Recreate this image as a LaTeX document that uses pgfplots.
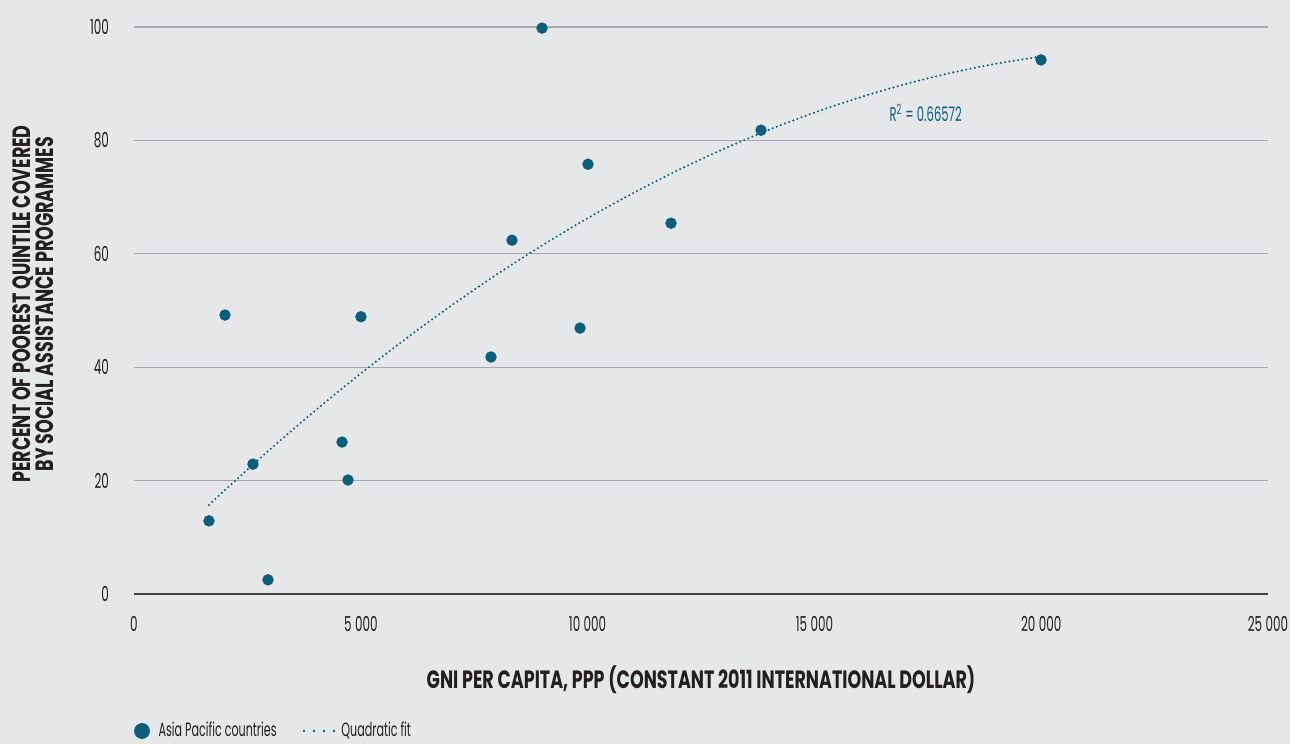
\documentclass[border=0pt]{standalone}
\usepackage{fontspec}
\setmainfont{Poppins}[FakeStretch=0.7]
\newfontfamily\tickfont{Poppins}[FakeStretch=0.58]
\usepackage{pgfplots}
\pgfplotsset{compat=1.18}
\definecolor{bg}{HTML}{E6E7E8}
\definecolor{teal}{RGB}{12,94,122}
\definecolor{txt}{HTML}{231F20}
\definecolor{gridc}{HTML}{A7A9AC}
\begin{document}
\begin{tikzpicture}[x=1pt,y=1pt]
\path[use as bounding box, fill=bg] (-67pt,-75pt) rectangle (578pt,297pt);
\begin{axis}[
  scale only axis, width=567pt, height=283.5pt,
  xmin=0, xmax=25000, ymin=0, ymax=100,
  axis line style={draw=none},
  major tick length=0pt,
  xtick={0,5000,10000,15000,20000,25000},
  ytick={0,20,40,60,80,100},
  ymajorgrids, grid style={gridc, line width=0.6pt},
  /pgf/number format/.cd, assume math mode=true, 1000 sep={\,},
  /pgfplots/.cd,
  scaled x ticks=false,
  tick label style={font=\tickfont\fontsize{10.3}{11}\selectfont, text=txt},
  xticklabel style={yshift=-7.5pt},
  yticklabel style={xshift=-9pt},
  xlabel={GNI PER CAPITA, PPP (CONSTANT 2011 INTERNATIONAL DOLLAR)},
  ylabel={PERCENT OF POOREST QUINTILE COVERED\\BY SOCIAL ASSISTANCE PROGRAMMES},
  label style={font=\bfseries\fontsize{12.5}{10}\selectfont, text=txt},
  xlabel style={at={(axis description cs:0.5,-0.1517)}, anchor=center},
  ylabel style={at={(axis description cs:-0.0891,0.5115)}, anchor=center, align=center},
  legend style={at={(axis description cs:-0.002,-0.2416)}, anchor=west, draw=none, fill=none,
    inner sep=1pt,
    font=\tickfont\fontsize{9.6}{10}\selectfont, text=txt, /tikz/every even column/.append style={column sep=11pt}},
  legend columns=2,
  clip=false,
]
\draw[color=txt!85, line width=1.1pt] (axis cs:0,0) -- (axis cs:25000,0);
\addplot[only marks, mark=*, mark size=2.65pt, color=teal,
  legend image code/.code={\fill[teal] (0.06cm,0cm) circle (3.75pt); \path[draw=none,fill=none] (0pt,0pt) rectangle (8pt,0.1pt);}]
  coordinates {
(1653,12.9) (2006,49.2) (2623,22.9) (2954,2.5) (4586,26.8) (4718,20.1)
(5004,48.9) (7870,41.8) (8333,62.4) (8995,99.8) (9833,46.9) (10009,75.8)
(11839,65.4) (13823,81.8) (19996,94.2)
};
\addlegendentry{Asia Pacific countries}
\addplot[color=teal, line width=1.15pt, line cap=round, dash pattern=on 0pt off 2.2pt, smooth,
  legend image code/.code={\draw[teal, line width=1.4pt, line cap=round, dash pattern=on 0pt off 5pt] (0pt,0pt) -- (16pt,0pt);}]
  coordinates {
(1653,15.70) (2000,18.29) (3000,25.51) (4000,32.38) (5000,38.90) (6000,45.07)
(7000,50.89) (8000,56.37) (9000,61.49) (10000,66.27) (11000,70.69) (12000,74.77)
(13000,78.49) (14000,81.87) (15000,84.90) (16000,87.58) (17000,89.91) (18000,91.89)
(19000,93.52) (20000,94.80)
};
\addlegendentry{Quadratic fit}
\node[anchor=west, text=teal, font=\tickfont\fontsize{10}{11}\selectfont, inner sep=0pt] at (axis cs:16650,84.8) {R\textsuperscript{2} = 0.66572};
\end{axis}
\end{tikzpicture}
\end{document}
